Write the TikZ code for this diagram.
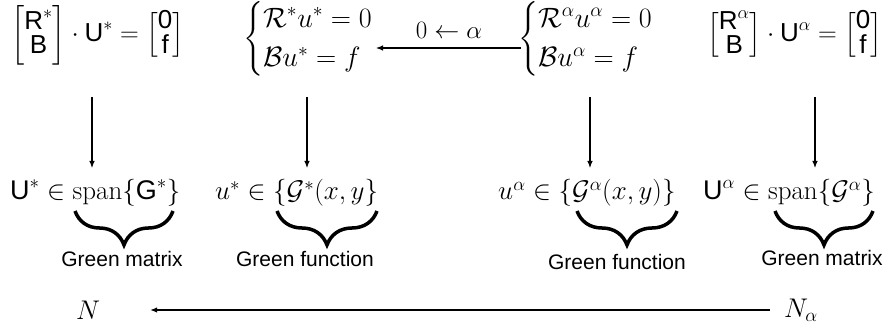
\RequirePackage{fix-cm}
\documentclass[tikz,border=0pt]{standalone}
\usepackage{amsmath}
\usepackage{fontspec}
\newfontfamily\hvfont{Liberation Sans}
\usetikzlibrary{decorations.pathreplacing,arrows.meta}
\newcommand\hs[1]{\text{\hvfont #1}}
\begin{document}
\begin{tikzpicture}[x=1pt,y=-1pt,
  every node/.style={inner sep=0pt},
  lbl/.style={font=\hvfont\fontsize{21}{25}\selectfont},
  mat/.style={font=\fontsize{26}{30}\selectfont,anchor=west},
  cas/.style={font=\fontsize{28}{33}\selectfont,anchor=west},
  row/.style={font=\fontsize{27}{32}\selectfont,anchor=base west},
  arr/.style={line width=1.1pt,-{Latex[length=7pt,width=5.5pt]}},
  brc/.style={line width=3.5pt,decorate,decoration={brace,mirror,amplitude=34pt,aspect=0.5}}]
\useasboundingbox (0,0) rectangle (895,331);
% top row
\node[mat] (m1) at (11,35) {\renewcommand\arraystretch{0.7}$\begin{bmatrix}\hs{R}^*\\ \hs{B}\end{bmatrix}\cdot\hs{U}^*=\begin{bmatrix}\hs{0}\\ \hs{f}\end{bmatrix}$};
\node[cas] (c1) at (243,39) {$\begin{cases}\mathcal{R}^*u^*=0\\ \mathcal{B}u^*=f\end{cases}$};
\node[cas] (c2) at (518,39) {$\begin{cases}\mathcal{R}^\alpha u^\alpha=0\\ \mathcal{B}u^\alpha=f\end{cases}$};
\node[mat] (m2) at (707,35) {\renewcommand\arraystretch{0.7}$\begin{bmatrix}\hs{R}^\alpha\\ \hs{B}\end{bmatrix}\cdot\hs{U}^\alpha=\begin{bmatrix}\hs{0}\\ \hs{f}\end{bmatrix}$};
\coordinate (hs) at (521,48);
\coordinate (he) at (376,48);
\draw[arr] (hs) -- (he);
\node[font=\fontsize{25}{30}\selectfont] (lab) at (449,30) {$0\leftarrow\alpha$};
% second row
\node[row] (r1) at (10,200) {$\hs{U}^*\in\operatorname{span}\{\hs{G}^*\}$};
\node[row] (r2) at (215,200) {$u^*\in\{\mathcal{G}^*(x,y\}$};
\node[row] (r3) at (498,200) {$u^\alpha\in\{\mathcal{G}^\alpha(x,y)\}$};
\node[row] (r4) at (703,200) {$\hs{U}^\alpha\in\operatorname{span}\{\mathcal{G}^\alpha\}$};
% vertical arrows
\foreach \i/\x in {1/92,2/307,3/590,4/815}{
  \coordinate (v\i s) at (\x,97);
  \coordinate (v\i e) at (\x,168);
  \draw[arr] (v\i s) -- (v\i e);
}
% braces
\foreach \i/\a/\b in {1/75/173,2/277/377,3/577/677,4/775/873}{
  \coordinate (b\i l) at (\a,211);
  \coordinate (b\i r) at (\b,211);
  \draw[brc] (b\i l) -- (b\i r);
}
\node[lbl] (g1) at (122,259) {Green matrix};
\node[lbl] (g2) at (305,259) {Green function};
\node[lbl] (g3) at (617,262) {Green function};
\node[lbl] (g4) at (822,258) {Green matrix};
% bottom
\node[font=\fontsize{27}{32}\selectfont] (N) at (88,310) {$N$};
\node[font=\fontsize{27}{32}\selectfont] (Na) at (801,310) {$N_\alpha$};
\draw[arr,shorten <=14pt,shorten >=50pt] (Na) -- (N);
\end{tikzpicture}
\end{document}
